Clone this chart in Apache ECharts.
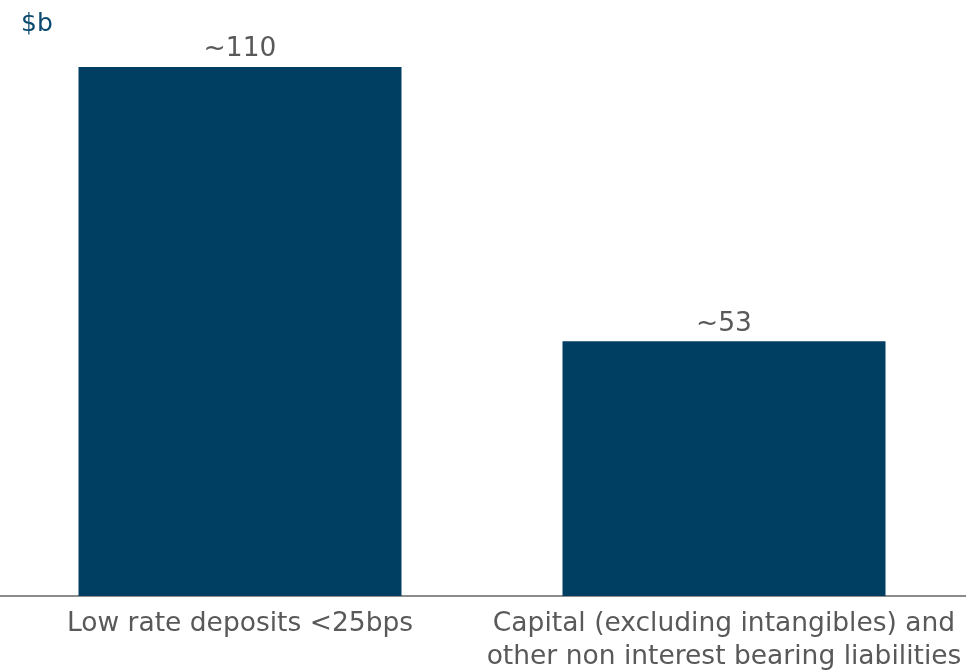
<!DOCTYPE html>
<html>
<head>
<meta charset="utf-8">
<script src="https://cdn.jsdelivr.net/npm/echarts@6/dist/echarts.min.js"></script>
<style>html,body{margin:0;padding:0;background:#fff;}#c{width:966px;height:670px;}</style>
</head>
<body>
<div id="c"></div>
<script>
const categories = ['Low rate deposits <25bps', 'Capital (excluding intangibles) and\nother non interest bearing liabilities'];
const values = [110, 53];
const valueLabels = ['~110', '~53'];
const unitLabel = '$b';

const chart = echarts.init(document.getElementById('c'), null, {renderer: 'canvas'});
chart.setOption({
  animation: false,
  textStyle: {fontFamily: 'DejaVu Sans'},
  title: {
    text: unitLabel, left: 16, top: 7,
    textStyle: {fontFamily: 'DejaVu Sans', fontSize: 25, fontWeight: 'normal', color: '#0b4a6e'}
  },
  grid: {left: -2, right: 0, top: 19, bottom: 74, containLabel: false, outerBoundsMode: 'none'},
  xAxis: {
    type: 'category', data: categories,
    axisLine: {show: true, lineStyle: {color: '#8c8c8c', width: 2}},
    axisTick: {show: false},
    axisLabel: {
      interval: 0, margin: 12, fontSize: 26.5, lineHeight: 33,
      color: '#595959', fontFamily: 'DejaVu Sans'
    }
  },
  yAxis: {type: 'value', min: 0, max: 120, show: false, splitLine: {show: false}},
  series: [{
    type: 'bar', data: values, barWidth: 323,
    itemStyle: {color: '#003f62'},
    label: {
      show: true, position: 'top', distance: 4, fontSize: 26.5, color: '#595959',
      fontFamily: 'DejaVu Sans',
      formatter: p => valueLabels[p.dataIndex]
    }
  }]
});
</script>
</body>
</html>
